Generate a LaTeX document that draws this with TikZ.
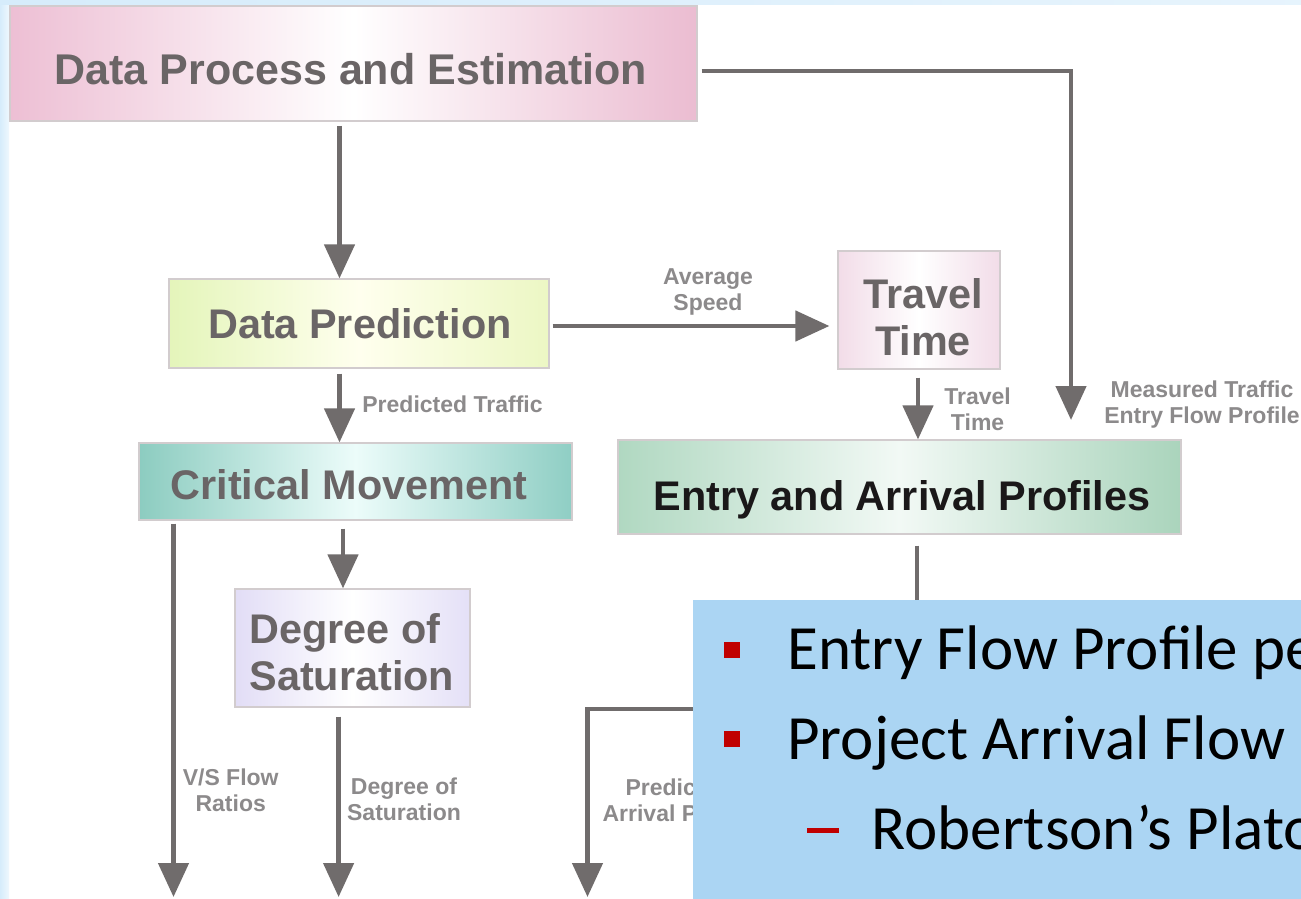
\documentclass[tikz,border=0pt]{standalone}
\usepackage{fontspec}
\setmainfont{Liberation Sans}
\newfontfamily\slidefont{Carlito}
\usetikzlibrary{arrows.meta,fit,backgrounds}

\definecolor{arrowgray}{RGB}{112,108,108}
\definecolor{boxtext}{RGB}{106,101,102}
\definecolor{labelgray}{RGB}{140,138,139}
\definecolor{boxedge}{RGB}{210,204,206}
\definecolor{edgeblue}{RGB}{214,236,251}
\definecolor{notefill}{RGB}{171,213,243}
\definecolor{bulletred}{RGB}{192,0,0}
\definecolor{pinkL}{RGB}{237,191,212}
\definecolor{pinkR}{RGB}{235,188,209}
\definecolor{limeL}{RGB}{228,245,186}
\definecolor{limeR}{RGB}{236,247,196}
\definecolor{limeM}{RGB}{255,255,238}
\definecolor{rosePale}{RGB}{242,220,232}
\definecolor{tealL}{RGB}{140,204,192}
\definecolor{tealR}{RGB}{143,206,196}
\definecolor{tealM}{RGB}{236,252,250}
\definecolor{mintL}{RGB}{176,216,193}
\definecolor{mintR}{RGB}{170,212,188}
\definecolor{mintM}{RGB}{242,249,245}
\definecolor{lavL}{RGB}{226,221,246}
\definecolor{lavR}{RGB}{228,224,247}

\begin{document}
\begin{tikzpicture}[x=0.5pt,y=-0.5pt,
  box/.style={draw=boxedge, line width=0.6pt, inner sep=0pt, shade},
  flow/.style={draw=arrowgray, line width=2.3pt, -{Triangle[length=17pt,width=15pt]}},
  title/.style={font=\bfseries\fontsize{20.7}{23.5}\selectfont, text=boxtext, inner sep=0pt},
  tag/.style={font=\bfseries\fontsize{11.5}{13}\selectfont, text=labelgray, inner sep=0pt, align=center},
  notetext/.style={font=\slidefont\fontsize{31.5}{38}\selectfont, text=black, inner sep=0pt, anchor=base west},
]
\useasboundingbox (0,0) rectangle (1301,899);
\clip (0,0) rectangle (1301,899);

% page background with pale blue margins
\fill[white] (0,0) rectangle (1301,899);
\shade[left color=edgeblue, right color=edgeblue!40] (0,0) rectangle (9,899);
\shade[left color=edgeblue, right color=edgeblue!60] (0,0) rectangle (1301,5);

% process boxes
\node[box, left color=pinkL, right color=pinkR, middle color=white,
      fit={(10,6) (697,121)}] (dpe) {};
\node[box, left color=limeL, right color=limeR, middle color=limeM,
      fit={(169,279) (549,368)}] (dp) {};
\node[box, left color=rosePale, right color=rosePale, middle color=white,
      fit={(838,251) (1000,369)}] (tt) {};
\node[box, left color=tealL, right color=tealR, middle color=tealM,
      fit={(139,443) (572,520)}] (cm) {};
\node[box, left color=mintL, right color=mintR, middle color=mintM,
      fit={(618,440) (1181,534)}] (ea) {};
\node[box, left color=lavL, right color=lavR, middle color=white,
      fit={(235,589) (470,707)}] (dos) {};

\begin{scope}[on background layer]
  \draw[draw=black!22, fill=white, line width=0.6pt]
    ([shift={(4,4)}]ea.south west) rectangle ([shift={(4,4)}]ea.north east);
\end{scope}

% box titles
\node[title, font=\bfseries\fontsize{21.5}{24}\selectfont, anchor=base] (dpeT) at (351,85) {Data Process and Estimation};
\node[title, anchor=base] (dpT) at (360,338) {Data Prediction};
\node[title, anchor=north, align=center] (ttT) at (923,278) {Travel\\Time};
\node[title, anchor=base] (cmT) at (349,499) {Critical Movement};
\node[title, text={rgb,255:red,26;green,24;blue,25}, anchor=base] (eaT) at (902,510) {Entry and Arrival Profiles};
\node[title, anchor=north west, align=left] (dosT) at (249,613.5) {Degree of\\Saturation};

% reference columns and rows for the connectors
\coordinate (xA) at (339.5,0);
\coordinate (xB) at (343,0);
\coordinate (xC) at (173.5,0);
\coordinate (xD) at (338.6,0);
\coordinate (xT) at (918,0);
\coordinate (xE) at (917,0);
\coordinate (yM) at (0,71);
\coordinate (yS) at (0,326);
\coordinate (yB) at (0,709);
\coordinate (mEnd) at (1071,420);
\coordinate (vsEnd) at (173.5,897);
\coordinate (dsEnd) at (338.6,897);
\coordinate (paEnd) at (587.5,897);

% connectors
\draw[flow, shorten <=2.2pt] (dpe.south -| xA) -- (dp.north -| xA);
\draw[flow, shorten <=2pt] (dpe.east |- yM) -| (mEnd);
\draw[flow, shorten <=1.5pt, shorten >=4pt] (dp.east |- yS) -- (tt.west |- yS);
\draw[flow, shorten <=4pt] (tt.south -| xT) -- (ea.north -| xT);
\draw[flow, shorten <=2.5pt] (dp.south -| xA) -- (cm.north -| xA);
\draw[flow, shorten <=4pt] (cm.south -| xB) -- (dos.north -| xB);
\draw[flow, shorten <=1.5pt] (cm.south -| xC) -- (vsEnd);
\draw[flow, shorten <=4.5pt] (dos.south -| xD) -- (dsEnd);
\draw[flow, shorten <=5.5pt] (ea.south -| xE) -- (xE |- yB) -| (paEnd);

% connector labels
\node[tag, anchor=north] (lSpeed) at (708,268.5) {Average\\Speed};
\node[tag, anchor=base west] (lPred) at (362,412.5) {Predicted Traffic};
\node[tag, anchor=north] (lTravel) at (977.6,387.5) {Travel\\Time};
\node[tag, anchor=north] (lMeas) at (1202,380.5) {Measured Traffic\\Entry Flow Profile};
\node[tag, anchor=north] (lVS) at (230.7,768.5) {V/S Flow\\Ratios};
\node[tag, anchor=north] (lDoS) at (404,777.5) {Degree of\\Saturation};
\node[tag, anchor=north] (lArr) at (678,778.5) {Predicted\\Arrival Profile};

% note panel with its bullet list
\node[fill=notefill, inner sep=0pt, fit={(693,600) (1301,899)}] (note) {};
\fill[bulletred] (724,642) rectangle (740,658);
\fill[bulletred] (724,731) rectangle (740,747);
\fill[bulletred] (807,828) rectangle (839,833);
\node[notetext] (n1) at (787,669) {Entry Flow Profile pe};
\node[notetext] (n2) at (787,759) {Project Arrival Flow};
\node[notetext] (n3) at (871,849) {Robertson’s Plato};
\end{tikzpicture}
\end{document}
